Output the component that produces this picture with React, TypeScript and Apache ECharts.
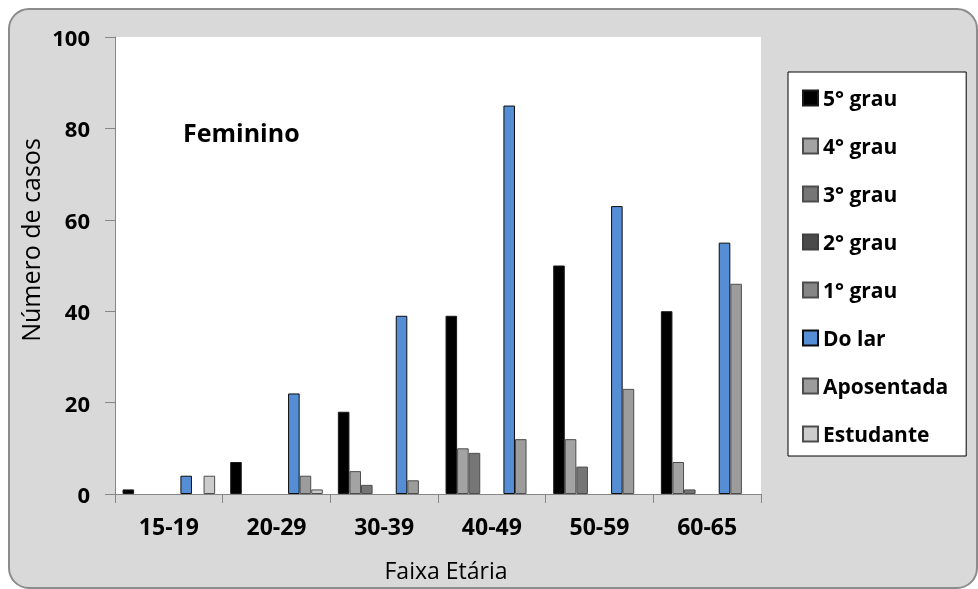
import React, { useEffect, useRef } from "react";
import * as echarts from "echarts";

const categories = ["15-19", "20-29", "30-39", "40-49", "50-59", "60-65"];
const seriesNames = ["5° grau", "4° grau", "3° grau", "2° grau", "1° grau", "Do lar", "Aposentada", "Estudante"];
const grau5 = [1, 7, 18, 39, 50, 40];
const grau4 = [0, 0, 5, 10, 12, 7];
const grau3 = [0, 0, 2, 9, 6, 1];
const grau2 = [0, 0, 0, 0, 0, 0];
const grau1 = [0, 0, 0, 0, 0, 0];
const doLar = [4, 22, 39, 85, 63, 55];
const aposentada = [0, 4, 3, 12, 23, 46];
const estudante = [4, 1, 0, 0, 0, 0];
const yTicks = [0, 20, 40, 60, 80, 100];

const seriesValues = [grau5, grau4, grau3, grau2, grau1, doLar, aposentada, estudante];
const colors = ["#000000", "#a3a3a3", "#767676", "#4a4a4a", "#868686", "#558ed5", "#9c9c9c", "#cccccc"];
const borders = ["#1a1a1a", "#4d4d4d", "#4d4d4d", "#404040", "#4d4d4d", "#0d0d0d", "#4d4d4d", "#4d4d4d"];

const FONT = "'Open Sans', 'Noto Sans', sans-serif";

export default function App() {
  const ref = useRef<HTMLDivElement>(null);
  useEffect(() => {
    if (!ref.current) return;
    const chart = echarts.init(ref.current, undefined, { renderer: "svg" });
    chart.setOption({
      animation: false,
      graphic: [
        {
          type: "rect",
          z: -10,
          silent: true,
          shape: { x: 9, y: 9, width: 968, height: 579, r: 20 },
          style: { fill: "#d9d9d9", stroke: "#8c8c8c", lineWidth: 2 },
        },
        {
          type: "text",
          z: 10,
          x: 183,
          y: 132,
          style: {
            text: "Feminino",
            font: `bold 25px ${FONT}`,
            fill: "#000",
            verticalAlign: "middle",
            align: "left",
          },
        },
        {
          type: "text",
          z: 10,
          x: 446,
          y: 570,
          style: {
            text: "Faixa Etária",
            font: `normal 23px ${FONT}`,
            fill: "#000",
            verticalAlign: "middle",
            align: "center",
          },
        },
        {
          type: "text",
          z: 10,
          x: 30,
          y: 240,
          rotation: Math.PI / 2,
          style: {
            text: "Número de casos",
            font: `normal 25px ${FONT}`,
            fill: "#000",
            verticalAlign: "middle",
            align: "center",
          },
        },
      ],
      grid: {
        left: 115,
        top: 37,
        width: 646,
        height: 457,
        show: true,
        backgroundColor: "#ffffff",
        borderWidth: 0,
      },
      legend: {
        orient: "vertical",
        left: 788,
        top: 72,
        data: seriesNames,
        backgroundColor: "#ffffff",
        borderColor: "#000000",
        borderWidth: 1,
        borderRadius: 0,
        padding: [15, 18, 11, 14],
        itemWidth: 15,
        itemHeight: 15,
        itemGap: 26,
        icon: "rect",
        textStyle: {
          fontFamily: FONT,
          fontWeight: "bold",
          fontSize: 21,
          lineHeight: 22,
          color: "#000",
        },
      },
      xAxis: {
        type: "category",
        data: categories,
        axisLine: { show: true, lineStyle: { color: "#868686", width: 1 } },
        axisTick: { show: true, length: 9, lineStyle: { color: "#868686" } },
        axisLabel: {
          margin: 20,
          fontFamily: FONT,
          fontWeight: "bold",
          fontSize: 23,
          color: "#000",
        },
        splitLine: { show: false },
      },
      yAxis: {
        type: "value",
        min: yTicks[0],
        max: yTicks[yTicks.length - 1],
        interval: yTicks[1] - yTicks[0],
        axisLine: { show: true, lineStyle: { color: "#868686", width: 1 } },
        axisTick: { show: true, length: 10, lineStyle: { color: "#868686" } },
        axisLabel: {
          margin: 25,
          fontFamily: FONT,
          fontWeight: "bold",
          fontSize: 22,
          color: "#000",
        },
        splitLine: { show: false },
      },
      series: seriesNames.map((name, i) => ({
        name,
        type: "bar",
        data: seriesValues[i].map((v) => (v === 0 ? null : v)),
        barGap: "0%",
        barCategoryGap: "14%",
        itemStyle: { color: colors[i], borderColor: borders[i], borderWidth: 1 },
      })),
    });
    return () => chart.dispose();
  }, []);
  return (
    <div
      ref={ref}
      style={{ position: "fixed", left: 0, top: 0, width: 978, height: 589 }}
    />
  );
}
